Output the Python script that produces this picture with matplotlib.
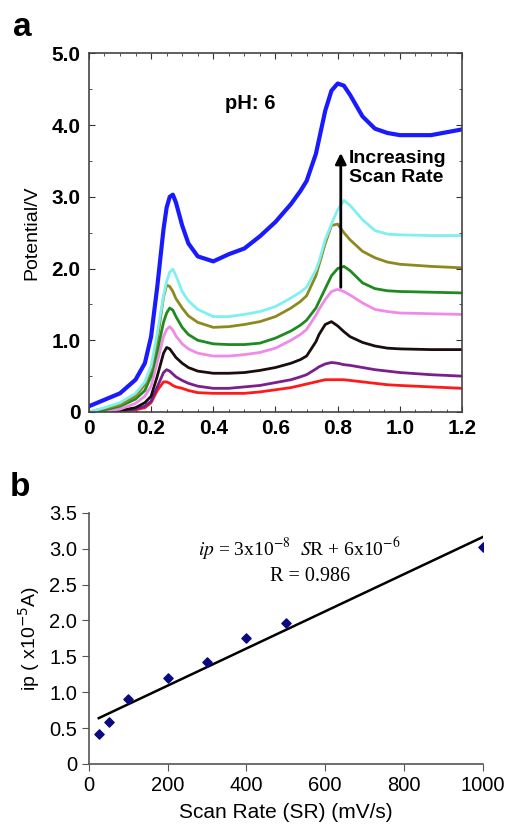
import matplotlib
matplotlib.use("Agg")
import matplotlib.pyplot as plt
import numpy as np
from matplotlib.ticker import MultipleLocator

plt.rcParams['font.family'] = ['Liberation Sans', 'DejaVu Sans']

# ---- panel a: potential curves at increasing scan rate ----
pot = [0, 0.05, 0.1, 0.15, 0.18, 0.2, 0.22, 0.24, 0.25, 0.26, 0.27, 0.28, 0.3,
       0.32, 0.35, 0.4, 0.45, 0.5, 0.55, 0.6, 0.65, 0.68, 0.7, 0.73, 0.74, 0.76,
       0.78, 0.8, 0.82, 0.84, 0.88, 0.92, 0.96, 1.0, 1.1, 1.2]

red = [0.0, 0.0, 0.01, 0.03, 0.06, 0.13, 0.3, 0.42, 0.42, 0.4, 0.37, 0.35, 0.33,
       0.3, 0.27, 0.26, 0.26, 0.26, 0.28, 0.31, 0.34, 0.37, 0.39, 0.42, 0.43, 0.45,
       0.45, 0.45, 0.45, 0.44, 0.42, 0.4, 0.38, 0.37, 0.35, 0.33]
purple = [0.0, 0.0, 0.01, 0.04, 0.08, 0.15, 0.35, 0.55, 0.59, 0.57, 0.53, 0.49, 0.44,
          0.4, 0.36, 0.33, 0.33, 0.35, 0.37, 0.41, 0.45, 0.49, 0.52, 0.6, 0.63, 0.67,
          0.69, 0.68, 0.66, 0.65, 0.62, 0.59, 0.57, 0.55, 0.52, 0.5]
black = [0.0, 0.0, 0.02, 0.06, 0.13, 0.22, 0.5, 0.82, 0.9, 0.88, 0.82, 0.76, 0.68,
         0.62, 0.57, 0.54, 0.54, 0.55, 0.58, 0.62, 0.68, 0.73, 0.78, 0.98, 1.08, 1.22,
         1.26, 1.2, 1.12, 1.05, 0.97, 0.92, 0.89, 0.88, 0.87, 0.87]
pink = [0.0, 0.01, 0.04, 0.12, 0.22, 0.36, 0.7, 1.05, 1.15, 1.19, 1.14, 1.06, 0.95,
        0.88, 0.82, 0.78, 0.78, 0.8, 0.83, 0.89, 1.0, 1.08, 1.15, 1.35, 1.43, 1.57,
        1.68, 1.71, 1.68, 1.63, 1.52, 1.43, 1.4, 1.38, 1.37, 1.36]
green = [0.0, 0.03, 0.08, 0.18, 0.3, 0.5, 0.85, 1.25, 1.38, 1.45, 1.42, 1.33, 1.18,
         1.08, 1.0, 0.95, 0.94, 0.94, 0.96, 1.03, 1.13, 1.21, 1.28, 1.45, 1.54, 1.72,
         1.9, 2.0, 2.03, 1.97, 1.8, 1.72, 1.69, 1.68, 1.67, 1.66]
olive = [0.0, 0.05, 0.1, 0.22, 0.38, 0.59, 1.0, 1.6, 1.77, 1.75, 1.68, 1.58, 1.45,
         1.34, 1.25, 1.18, 1.19, 1.22, 1.26, 1.33, 1.45, 1.54, 1.62, 1.9, 2.05, 2.35,
         2.6, 2.62, 2.5, 2.4, 2.24, 2.15, 2.09, 2.06, 2.03, 2.01]
cyan = [0.0, 0.06, 0.13, 0.26, 0.42, 0.64, 1.1, 1.62, 1.82, 1.95, 1.99, 1.9, 1.68,
        1.55, 1.43, 1.33, 1.33, 1.36, 1.4, 1.47, 1.59, 1.67, 1.74, 1.98, 2.1, 2.4,
        2.62, 2.82, 2.95, 2.88, 2.68, 2.53, 2.48, 2.47, 2.46, 2.46]
blue = [0.08, 0.17, 0.26, 0.45, 0.68, 1.05, 1.75, 2.55, 2.85, 3.0, 3.03, 2.92, 2.6,
        2.35, 2.17, 2.1, 2.2, 2.28, 2.45, 2.65, 2.9, 3.08, 3.22, 3.6, 3.8, 4.2,
        4.48, 4.58, 4.55, 4.42, 4.12, 3.95, 3.89, 3.86, 3.86, 3.94]

curves = [red, purple, black, pink, green, olive, cyan, blue]
colors = ["#ff1a1a", "#7a1f8c", "#1a0d0d", "#f08ae8", "#1f8a1f", "#8c8a1f", "#7ff0f0", "#1a1aff"]

# ---- panel b: peak current vs scan rate ----
scan_rate = [25, 50, 100, 200, 300, 400, 500, 1000]
ip = [0.42, 0.58, 0.90, 1.20, 1.42, 1.75, 1.97, 3.02]

fig = plt.figure(figsize=(5.05, 8.34), dpi=100)

ax = fig.add_axes([0.176, 0.506, 0.739, 0.430])
for c, col in zip(curves, colors):
    lw = 3.0 if col == "#1a1aff" else 2.0
    ax.plot(pot, c, color=col, lw=lw, solid_joinstyle="round")
ax.set_xlim(0, 1.2)
ax.set_ylim(0, 5.0)
ax.set_xticks([0, 0.2, 0.4, 0.6, 0.8, 1.0, 1.2])
ax.set_xticklabels(["0", "0.2", "0.4", "0.6", "0.8", "1.0", "1.2"])
ax.set_yticks([0, 1, 2, 3, 4, 5])
ax.set_yticklabels(["0", "1.0", "2.0", "3.0", "4.0", "5.0"])
ax.xaxis.set_minor_locator(MultipleLocator(0.05))
ax.yaxis.set_minor_locator(MultipleLocator(0.5))
ax.tick_params(which="both", direction="in", top=True, right=True, color="#333333")
ax.tick_params(which="major", length=4, labelsize=15)
ax.tick_params(axis="x", which="major", pad=5)
ax.tick_params(axis="y", which="major", pad=6)
ax.tick_params(which="minor", length=2.5)
for lab in ax.get_xticklabels() + ax.get_yticklabels():
    lab.set_fontweight("bold")
for sp in ax.spines.values():
    sp.set_color("#444444")
    sp.set_linewidth(1.2)
ax.set_ylabel("Potential/V", fontsize=14, labelpad=8)
ax.text(0.52, 4.3, "pH: 6", fontsize=14.5, fontweight="bold", ha="center", va="center")
ax.annotate("", xy=(0.81, 3.65), xytext=(0.81, 1.7),
            arrowprops=dict(arrowstyle="-|>", color="black", lw=2, mutation_scale=16))
ax.text(0.835, 3.65, "Increasing\nScan Rate", fontsize=14, fontweight="bold",
        ha="left", va="top", linespacing=1.1)
fig.text(0.025, 0.957, "a", fontsize=24, fontweight="bold")

bx = fig.add_axes([0.176, 0.084, 0.780, 0.301])
bx.scatter(scan_rate, ip, marker="D", s=22, color="#0a0a80", zorder=3)
k, b0 = np.polyfit(scan_rate, ip, 1)
fit_x = np.array([scan_rate[0], scan_rate[-1]])
bx.plot(fit_x, k * fit_x + b0, color="black", lw=1.8)
bx.set_xlim(0, 1000)
bx.set_ylim(0, 3.5)
bx.set_xticks([0, 200, 400, 600, 800, 1000])
bx.set_yticks([0, 0.5, 1.0, 1.5, 2.0, 2.5, 3.0, 3.5])
bx.set_yticklabels(["0", "0.5", "1.0", "1.5", "2.0", "2.5", "3.0", "3.5"])
bx.spines["top"].set_visible(False)
bx.spines["right"].set_visible(False)
for sp in ("left", "bottom"):
    bx.spines[sp].set_color("#555555")
    bx.spines[sp].set_linewidth(1.2)
bx.tick_params(direction="out", length=5, color="#555555", labelsize=14.5)
bx.set_xlabel("Scan Rate (SR) (mV/s)", fontsize=15, labelpad=6)
bx.set_ylabel("ip ( x10$^{-5}$A)", fontsize=14, labelpad=5)
bx.text(535, 3.0, "$\\mathit{ip}$ = 3x10$^{-8}$  $\\mathit{S}$R + 6x10$^{-6}$",
        fontsize=14, ha="center", va="center", family="Liberation Serif",
        math_fontfamily="stix")
bx.text(561, 2.61, "R = 0.986", fontsize=14.5, ha="center", va="center",
        family="Liberation Serif")
fig.text(0.02, 0.405, "b", fontsize=24, fontweight="bold")

fig.savefig("out.png", dpi=100)
